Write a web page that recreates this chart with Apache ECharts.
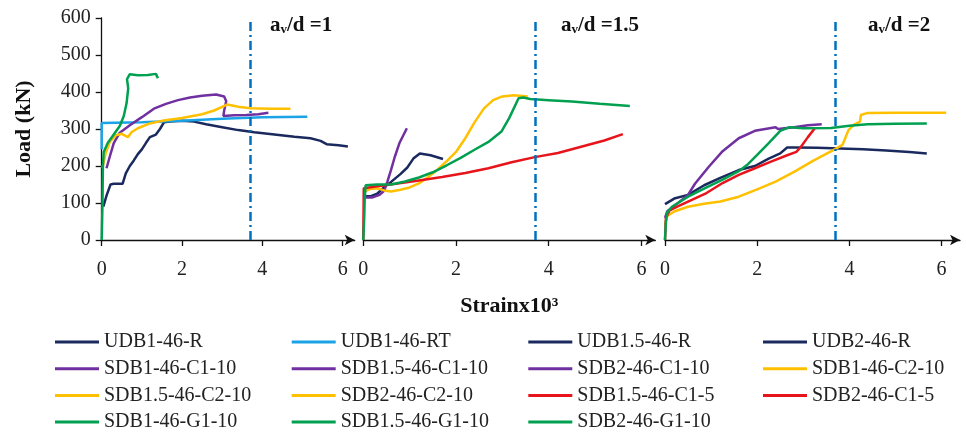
<!DOCTYPE html>
<html>
<head>
<meta charset="utf-8">
<title>Load - strain curves</title>
<script src="https://cdn.jsdelivr.net/npm/echarts@6.0.0/dist/echarts.min.js"></script>
<style>
  html, body { margin: 0; padding: 0; background: #fff; }
  #chart { width: 966px; height: 435px; }
</style>
</head>
<body>
<div id="chart"></div>
<script>
// [strain x10^3, load kN]

// a/d = 1
const udb1_46_R = [[0.04,90],[0.12,120],[0.22,150],[0.3,152],[0.52,152],[0.6,180],[0.7,200],[0.8,215],[0.9,232],[1.0,245],[1.1,262],[1.2,278],[1.35,285],[1.45,300],[1.55,318],[1.7,320],[2.0,322],[2.3,320],[2.6,313],[3.0,305],[3.4,297],[3.8,291],[4.3,285],[4.8,279],[5.2,275],[5.45,268],[5.6,259],[5.9,256],[6.13,253]];
const udb1_46_RT = [[0,245],[0,316],[1,318],[2,322],[3,328],[4,332],[5.12,333]];
const sdb1_46_C1_10 = [[0.12,194],[0.2,225],[0.3,262],[0.45,290],[0.7,310],[1.0,332],[1.3,355],[1.6,368],[1.9,378],[2.2,385],[2.5,390],[2.85,393],[3.05,388],[3.1,375],[3.05,350],[3.03,335],[3.3,337],[3.6,338],[3.9,340],[4.15,344]];
const sdb1_46_C2_10 = [[0.02,195],[0.1,235],[0.2,265],[0.35,283],[0.5,287],[0.65,278],[0.75,292],[0.9,302],[1.2,315],[1.5,322],[2.0,330],[2.5,340],[2.8,350],[3.0,360],[3.12,366],[3.4,360],[3.7,356],[4.2,355],[4.7,355]];
const sdb1_46_G1_10 = [[0,0],[0.02,100],[0.03,200],[0.05,238],[0.15,262],[0.3,285],[0.45,308],[0.55,335],[0.62,370],[0.66,410],[0.63,435],[0.7,448],[0.9,445],[1.15,446],[1.35,449],[1.4,437]];

// a/d = 1.5
const udb15_46_R = [[0.05,118],[0.15,118],[0.3,125],[0.45,143],[0.6,157],[0.8,178],[0.95,196],[1.08,220],[1.22,234],[1.45,229],[1.72,219]];
const sdb15_46_C1_10 = [[0.05,115],[0.2,115],[0.35,122],[0.45,133],[0.52,158],[0.6,190],[0.68,225],[0.78,262],[0.94,302]];
const sdb15_46_C2_10 = [[0.02,130],[0.15,138],[0.3,140],[0.45,134],[0.6,131],[0.8,136],[1.0,142],[1.2,153],[1.4,170],[1.6,190],[1.8,213],[2.0,238],[2.2,275],[2.4,318],[2.6,355],[2.8,378],[3.0,388],[3.25,391],[3.55,388]];
const sdb15_46_C1_5 = [[0,0],[0.01,140],[0.3,145],[0.7,152],[1.2,161],[1.7,170],[2.2,181],[2.7,194],[3.2,210],[3.7,224],[4.2,235],[4.7,252],[5.2,269],[5.6,286]];
const sdb15_46_G1_10 = [[0,0],[0.02,60],[0.03,110],[0.05,148],[0.3,150],[0.6,150],[0.9,158],[1.2,169],[1.5,183],[1.8,202],[2.1,222],[2.4,244],[2.7,265],[2.98,293],[3.15,330],[3.35,383],[3.45,385],[3.6,381],[4.0,378],[4.5,374],[5.1,368],[5.75,362]];

// a/d = 2
const udb2_46_R = [[0,97],[0.2,112],[0.5,122],[0.85,148],[1.2,168],[1.6,189],[1.95,200],[2.25,220],[2.5,234],[2.65,250],[2.85,250],[3.3,249],[3.8,247],[4.3,245],[4.8,242],[5.3,238],[5.68,234]];
const sdb2_46_C1_10 = [[0,60],[0.05,78],[0.25,97],[0.5,122],[0.65,152],[0.95,198],[1.25,240],[1.6,275],[1.95,295],[2.4,305],[2.45,300],[2.8,305],[3.1,310],[3.4,313]];
const sdb2_46_C2_10 = [[0,40],[0.05,65],[0.2,77],[0.5,90],[0.85,98],[1.2,104],[1.6,117],[2.0,137],[2.4,158],[2.8,184],[3.2,213],[3.65,243],[3.85,257],[3.98,297],[4.1,312],[4.23,320],[4.25,338],[4.38,343],[5.0,344],[6.1,344]];
const sdb2_46_C1_5 = [[0,0],[0.02,60],[0.1,80],[0.3,92],[0.5,104],[0.9,127],[1.25,154],[1.6,176],[1.95,194],[2.3,212],[2.65,229],[2.85,238],[2.95,252],[3.1,278],[3.25,302]];
const sdb2_46_G1_10 = [[0,0],[0.02,50],[0.05,75],[0.15,90],[0.5,117],[0.87,140],[1.25,163],[1.6,186],[1.8,205],[2.0,230],[2.25,262],[2.5,295],[2.7,305],[3.0,302],[3.6,303],[4.0,309],[4.4,313],[5.0,314],[5.68,315]];

const xTicks = [0, 2, 4, 6];
const yMin = 0, yMax = 600, yStep = 100;
const dividerStrain = 3.7;
const ratios = ['1', '1.5', '2'];

const legendCols = [
  ['UDB1-46-R', 'SDB1-46-C1-10', 'SDB1.5-46-C2-10', 'SDB1-46-G1-10'],
  ['UDB1-46-RT', 'SDB1.5-46-C1-10', 'SDB2-46-C2-10', 'SDB1.5-46-G1-10'],
  ['UDB1.5-46-R', 'SDB2-46-C1-10', 'SDB1.5-46-C1-5', 'SDB2-46-G1-10'],
  ['UDB2-46-R', 'SDB1-46-C2-10', 'SDB2-46-C1-5']
];

const NAVY = '#1B2A5E', SKY = '#1AA3E6', PURPLE = '#7030A0', ORANGE = '#FFC000', RED = '#E8141B', GREEN = '#00A050';
const SERIF = "'Liberation Serif', 'Times New Roman', serif";

// panel layout (px)
const grids = [
  { left: 101.7, top: 18, width: 253, height: 222 },
  { left: 363.3, top: 18, width: 292, height: 222 },
  { left: 665, top: 18, width: 295, height: 222 }
];
const xMax = [6.3, 6.3, 6.4];

function curve(name, data, panel, color) {
  return {
    name: name,
    type: 'line',
    data: data,
    xAxisIndex: panel,
    yAxisIndex: panel,
    symbol: 'none',
    lineStyle: { width: 2.5, color: color },
    itemStyle: { color: color }
  };
}

function divider() {
  return {
    silent: true,
    symbol: ['none', 'none'],
    label: { show: false },
    lineStyle: { color: '#0070C0', width: 2.5, type: [9, 4, 2, 4] },
    data: [{ xAxis: dividerStrain }]
  };
}

let series = [
  curve('UDB1-46-R', udb1_46_R, 0, NAVY),
  curve('UDB1-46-RT', udb1_46_RT, 0, SKY),
  curve('SDB1-46-C1-10', sdb1_46_C1_10, 0, PURPLE),
  curve('SDB1-46-C2-10', sdb1_46_C2_10, 0, ORANGE),
  curve('SDB1-46-G1-10', sdb1_46_G1_10, 0, GREEN),

  curve('UDB1.5-46-R', udb15_46_R, 1, NAVY),
  curve('SDB1.5-46-C1-10', sdb15_46_C1_10, 1, PURPLE),
  curve('SDB1.5-46-C2-10', sdb15_46_C2_10, 1, ORANGE),
  curve('SDB1.5-46-C1-5', sdb15_46_C1_5, 1, RED),
  curve('SDB1.5-46-G1-10', sdb15_46_G1_10, 1, GREEN),

  curve('UDB2-46-R', udb2_46_R, 2, NAVY),
  curve('SDB2-46-C1-10', sdb2_46_C1_10, 2, PURPLE),
  curve('SDB2-46-C2-10', sdb2_46_C2_10, 2, ORANGE),
  curve('SDB2-46-C1-5', sdb2_46_C1_5, 2, RED),
  curve('SDB2-46-G1-10', sdb2_46_G1_10, 2, GREEN)
];
// dash-dot divider in each panel
series[0].markLine = divider();
series[5].markLine = divider();
series[10].markLine = divider();

let xAxes = grids.map((g, i) => {
  let ax = {
    type: 'value',
    gridIndex: i,
    min: 0,
    max: xMax[i],
    interval: 2,
    axisLine: {
      show: true,
      onZero: false,
      symbol: ['none', 'arrow'],
      symbolSize: [8, 10],
      lineStyle: { color: '#111', width: 1.3 }
    },
    axisTick: { show: true, length: 6, customValues: xTicks, lineStyle: { color: '#111', width: 1.3 } },
    axisLabel: { customValues: xTicks, margin: 20, fontSize: 20, fontFamily: SERIF, color: '#222' },
    splitLine: { show: false }
  };
  if (i === 1) {
    ax.name = 'Strainx10³';
    ax.nameLocation = 'middle';
    ax.nameGap = 55;
    ax.nameTextStyle = { fontSize: 22, fontWeight: 'bold', fontFamily: SERIF, color: '#111' };
  }
  return ax;
});

let yAxes = grids.map((g, i) => ({
  type: 'value',
  gridIndex: i,
  min: yMin,
  max: yMax,
  interval: yStep,
  show: i === 0,
  name: i === 0 ? 'Load (kN)' : '',
  nameLocation: 'middle',
  nameRotate: 90,
  nameGap: 66,
  nameTextStyle: { fontSize: 22, fontWeight: 'bold', fontFamily: SERIF, color: '#111' },
  axisLine: { show: true, lineStyle: { color: '#111', width: 1.3 } },
  axisTick: { show: true, length: 6, lineStyle: { color: '#111', width: 1.3 } },
  axisLabel: { margin: 11, fontSize: 20, fontFamily: SERIF, color: '#222' },
  splitLine: { show: false }
}));

const legendLeft = [55, 291.7, 528.3, 763];
let legends = legendCols.map((col, i) => ({
  data: col,
  orient: 'vertical',
  left: legendLeft[i],
  top: 332,
  height: 103,
  padding: 0,
  icon: 'rect',
  itemWidth: 44,
  itemHeight: 3,
  itemGap: 6.7,
  selectedMode: false,
  textStyle: { fontSize: 20, fontFamily: SERIF, color: '#222' }
}));

const labelLeft = [270, 561, 868];
let labels = ratios.map((r, i) => ({
  type: 'text',
  left: labelLeft[i],
  top: 15,
  style: {
    text: '{b|a}{s|v}{b|/d =' + r + '}',
    rich: {
      b: { fontSize: 21, fontWeight: 'bold', fontFamily: SERIF, fill: '#111' },
      s: { fontSize: 13, fontWeight: 'bold', fontFamily: SERIF, fill: '#111', verticalAlign: 'bottom', padding: [9, 0, 0, 0] }
    }
  }
}));

let myChart = echarts.init(document.getElementById('chart'));
myChart.setOption({
  animation: false,
  backgroundColor: '#fff',
  grid: grids,
  xAxis: xAxes,
  yAxis: yAxes,
  legend: legends,
  graphic: labels,
  series: series
});
</script>
</body>
</html>
